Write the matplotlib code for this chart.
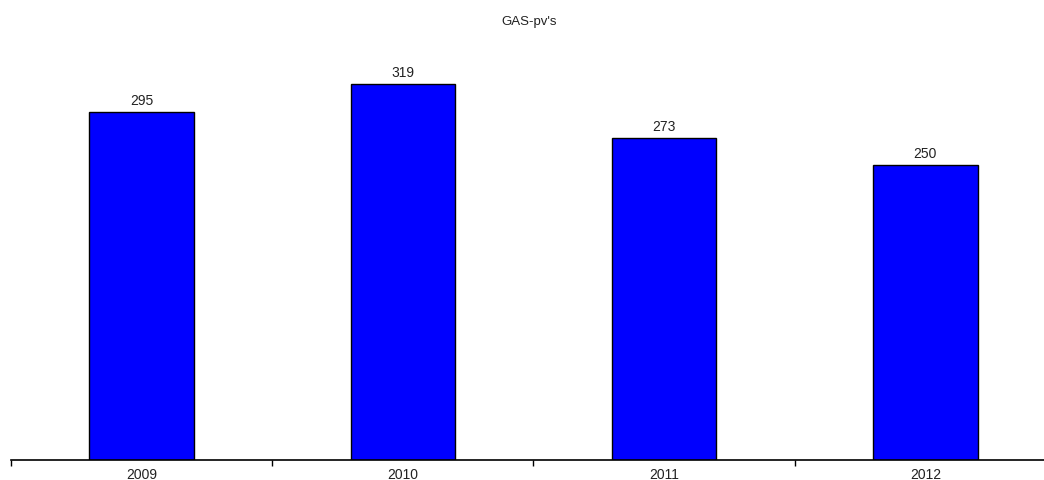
import matplotlib.pyplot as plt
import numpy as np

years = ['2009', '2010', '2011', '2012']
values = [295, 319, 273, 250]
title = "GAS-pv's"

plt.rcParams['font.family'] = ['Liberation Sans', 'DejaVu Sans']

fig = plt.figure(figsize=(10.44, 4.81), dpi=100)
# axis spans past the right edge like the original
ax = fig.add_axes([11 / 1044, 20 / 481, 1045 / 1044, 460 / 481])

x = np.arange(len(years))
bars = ax.bar(x, values, width=0.4, color='#0000ff', edgecolor='black', linewidth=1)
for xi, v in zip(x, values):
    ax.text(xi, v + 4, str(v), ha='center', va='bottom', fontsize=10, color='#222222')

ax.set_xlim(-0.5, len(years) - 0.5)
ax.set_ylim(0, 390)

# boundary ticks, labels centred under bars
ax.set_xticks(np.arange(len(years) + 1) - 0.5)
ax.set_xticklabels([])
ax.set_xticks(x, minor=True)
ax.set_xticklabels(years, minor=True, fontsize=10, color='#222222')
ax.tick_params(axis='x', which='major', direction='out', length=4, width=1, color='black')
ax.tick_params(axis='x', which='minor', length=0, pad=5)
ax.set_yticks([])

for s in ['top', 'right', 'left']:
    ax.spines[s].set_visible(False)
ax.spines['bottom'].set_linewidth(1.2)

fig.text(529 / 1044, 1 - 22 / 481, title, ha='center', va='center', fontsize=9.5, color='#222222')

fig.savefig('out.png', dpi=100)
